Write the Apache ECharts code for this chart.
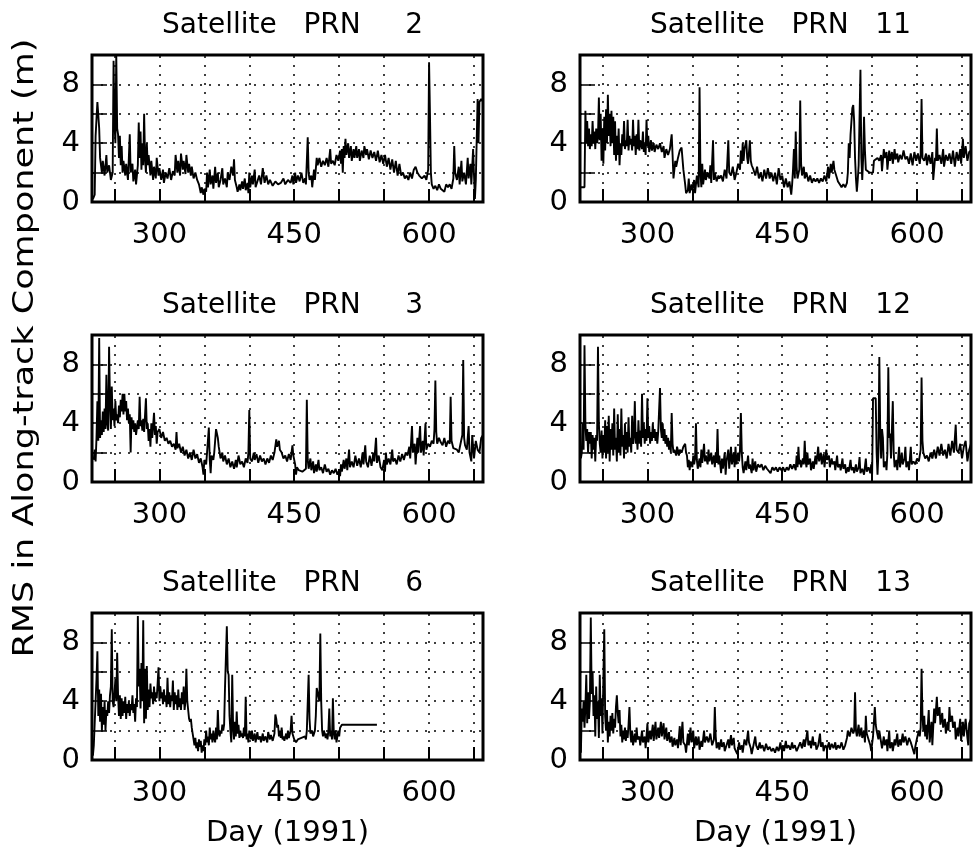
<!DOCTYPE html>
<html>
<head>
<meta charset="utf-8">
<title>RMS in Along-track Component</title>
<script src="https://cdn.jsdelivr.net/npm/echarts@6/dist/echarts.min.js"></script>
<style>
  html, body { margin: 0; padding: 0; background: #fff; }
  #main { width: 977px; height: 855px; }
</style>
</head>
<body>
<div id="main"></div>
<script>
// panel titles, left column then right column, row by row
var titles = ['Satellite   PRN     2', 'Satellite   PRN   11',
              'Satellite   PRN     3', 'Satellite   PRN   12',
              'Satellite   PRN     6', 'Satellite   PRN   13'];

// day of 1991, rms (m)
var prn2 = [[226,0.2],[228,0.5],[229,4.5],[231,6.8],[233,5.0],[234,3.0],[236,2.0],[237,2.8],[239,1.8],[241,3.2],[242,2.0],[244,2.5],[246,1.5],[248,2.0],[249,9.6],[250,5.5],[251,4.0],[252,10],[253,5.0],[254,4.6],[255,3.0],[256,4.5],[257,2.5],[258,3.8],[259,2.0],[260,2.8],[262,1.8],[263,2.6],[265,1.5],[266,3.0],[267,4.6],[268,2.0],[270,2.6],[271,1.4],[273,2.2],[274,1.2],[276,2.5],[277,5.4],[278,3.0],[279,4.8],[280,2.2],[281,4.0],[282,2.5],[283,6.0],[284,3.0],[285,2.0],[286,4.0],[287,2.5],[288,3.2],[290,1.8],[291,2.8],[293,1.5],[294,2.4],[296,1.6],[297,3.0],[299,1.8],[300,2.3],[302,1.5],[304,2.2],[305,1.3],[307,2.0],[309,1.6],[311,2.3],[313,1.5],[315,2.1],[317,1.8],[318,3.2],[320,2.0],[321,2.8],[323,1.8],[324,3.3],[326,2.2],[327,2.8],[329,1.9],[330,3.2],[332,2.0],[333,2.6],[335,1.8],[336,2.4],[338,1.6],[340,2.0],[342,1.5],[344,1.2],[346,0.6],[347,1.0],[349,0.5],[350,0.9],[352,0.7],[353,2.0],[354,1.0],[356,2.2],[357,1.2],[359,1.8],[360,0.9],[362,2.4],[363,1.3],[365,2.0],[366,1.0],[368,1.5],[370,2.3],[371,1.2],[373,1.6],[375,1.0],[376,2.0],[378,1.5],[380,2.4],[382,1.8],[383,2.9],[384,1.5],[386,1.0],[387,0.7],[389,1.2],[390,0.8],[392,1.4],[393,0.9],[395,1.6],[396,0.8],[398,1.3],[399,0.6],[400,2.0],[401,1.0],[403,1.8],[404,1.2],[406,2.2],[407,1.0],[409,1.4],[411,1.8],[413,1.2],[415,2.3],[417,1.3],[419,1.8],[421,1.2],[423,1.5],[426,1.1],[429,1.4],[432,1.2],[435,1.3],[438,1.6],[440,1.2],[443,1.5],[446,1.3],[448,1.8],[449,1.2],[451,2.0],[452,1.3],[454,1.8],[456,1.4],[458,2.0],[460,1.3],[462,1.6],[463,1.2],[465,4.4],[466,2.0],[467,1.5],[469,1.8],[470,1.0],[472,2.2],[473,1.5],[475,3.0],[476,2.5],[478,3.0],[480,2.4],[482,2.8],[484,2.5],[486,3.0],[488,2.4],[490,3.6],[491,2.6],[493,2.8],[495,2.5],[497,3.2],[499,2.8],[501,3.5],[502,2.6],[503,3.6],[504,2.0],[505,3.8],[506,3.0],[507,4.3],[508,3.2],[510,4.0],[511,3.0],[513,3.8],[514,2.8],[516,3.6],[517,3.0],[519,3.8],[520,3.0],[522,3.6],[523,2.8],[525,3.5],[527,3.0],[528,3.8],[530,3.2],[531,3.6],[533,2.9],[535,3.5],[537,3.0],[539,3.4],[541,2.8],[543,3.5],[545,2.7],[547,3.2],[549,2.6],[551,3.2],[553,2.4],[555,3.0],[557,2.2],[559,2.9],[561,2.0],[563,2.8],[565,1.8],[567,2.6],[569,1.8],[571,2.0],[573,1.6],[575,1.8],[577,1.5],[579,2.0],[581,1.6],[583,2.2],[585,2.4],[587,2.0],[589,1.8],[592,1.6],[595,1.8],[597,1.5],[599,2.2],[600,9.5],[601,6.0],[602,2.0],[603,1.2],[605,0.9],[607,1.1],[609,0.8],[611,1.2],[613,0.9],[615,1.0],[617,0.7],[619,1.2],[621,1.0],[623,1.2],[625,0.9],[627,1.6],[628,3.8],[629,2.0],[631,1.5],[633,2.4],[634,1.2],[636,2.8],[637,1.4],[639,2.0],[641,1.2],[643,3.0],[644,1.6],[646,2.6],[647,1.2],[649,3.6],[650,1.8],[651,0.2],[652,1.5],[654,7.0],[655,4.0],[656,6.8],[658,7.0],[660,6.8]];

var prn11 = [[226,1.0],[228,1.0],[230,1.0],[231,6.2],[232,4.0],[233,5.5],[234,3.8],[235,5.0],[236,3.6],[237,4.6],[238,3.8],[239,5.5],[240,4.0],[241,4.8],[242,3.6],[243,5.0],[244,4.0],[245,4.4],[246,7.1],[247,4.2],[248,6.0],[249,2.8],[250,5.0],[251,2.6],[252,5.8],[253,3.5],[254,6.3],[255,4.0],[256,7.3],[257,4.5],[258,6.0],[259,3.8],[260,6.2],[261,4.0],[262,5.8],[263,3.2],[264,5.5],[265,2.8],[266,4.5],[267,3.2],[268,5.0],[269,2.5],[270,4.0],[271,3.2],[272,4.6],[273,3.8],[274,5.5],[275,3.6],[276,4.2],[277,3.8],[278,5.6],[279,3.5],[280,4.5],[281,3.9],[282,4.3],[283,3.5],[284,5.6],[285,3.8],[286,4.5],[287,3.2],[288,4.6],[289,3.6],[290,5.6],[291,3.5],[292,4.2],[294,3.6],[295,4.8],[296,3.4],[297,4.0],[298,3.2],[299,5.6],[300,3.8],[301,4.5],[302,3.4],[304,4.2],[305,3.5],[307,4.0],[308,3.4],[310,3.9],[312,3.6],[314,4.0],[316,3.4],[318,3.8],[319,3.0],[321,3.6],[323,3.2],[325,3.6],[327,4.6],[328,3.2],[329,1.6],[331,2.8],[332,2.4],[334,3.0],[336,3.5],[338,3.7],[340,2.2],[342,1.2],[343,0.6],[345,0.8],[346,1.6],[347,0.6],[349,1.2],[350,0.8],[352,1.5],[353,0.6],[355,1.8],[357,1.0],[358,7.8],[359,2.0],[360,1.0],[361,2.6],[362,1.2],[364,2.2],[365,1.5],[367,2.0],[369,1.6],[370,2.5],[371,1.3],[373,4.2],[374,1.5],[375,2.0],[377,1.4],[379,1.8],[380,1.6],[382,1.8],[384,1.4],[386,2.2],[388,1.6],[390,4.2],[391,2.0],[393,1.8],[395,2.4],[397,1.5],[399,2.0],[401,2.6],[403,2.2],[404,3.5],[405,2.6],[406,4.0],[407,2.8],[408,3.6],[410,4.2],[411,3.0],[412,2.6],[414,4.2],[415,2.8],[416,2.5],[418,2.2],[420,1.8],[422,2.4],[424,1.6],[426,2.0],[428,1.4],[430,2.2],[432,1.6],[434,2.3],[436,1.6],[438,2.0],[440,1.4],[442,2.0],[444,1.2],[446,2.3],[448,1.5],[450,1.8],[452,1.0],[454,1.6],[456,1.0],[458,1.4],[460,0.5],[461,1.2],[462,2.2],[463,3.6],[464,1.6],[465,4.8],[466,2.4],[467,1.6],[469,2.2],[470,6.9],[471,2.6],[472,1.8],[474,2.4],[475,1.6],[477,2.0],[479,1.4],[481,1.8],[483,1.3],[485,1.6],[487,1.4],[489,1.6],[491,1.3],[493,1.6],[495,1.4],[497,1.8],[499,1.4],[501,2.4],[502,1.6],[504,2.6],[505,2.0],[507,2.8],[508,2.2],[510,1.8],[512,1.4],[514,1.2],[516,1.0],[518,1.2],[520,1.0],[522,1.3],[523,2.0],[524,4.0],[525,3.0],[526,4.6],[528,6.4],[529,6.6],[530,5.5],[531,3.0],[532,1.6],[533,0.7],[534,1.5],[535,2.5],[537,9.0],[538,3.0],[539,1.5],[540,3.0],[541,5.8],[542,3.5],[543,2.2],[545,2.1],[547,2.0],[549,2.1],[551,2.0],[552,2.8],[554,2.7],[556,3.0],[558,2.8],[560,3.2],[561,2.1],[563,3.6],[564,3.0],[566,3.4],[567,2.2],[569,3.5],[570,2.8],[572,3.4],[573,2.6],[575,3.6],[576,2.9],[578,3.3],[579,2.7],[581,3.2],[583,2.9],[585,3.5],[587,2.9],[589,3.1],[591,2.6],[593,3.3],[595,2.5],[597,3.4],[599,2.8],[601,3.3],[603,2.6],[604,3.2],[605,7.0],[606,3.0],[608,2.8],[610,3.3],[611,2.5],[613,3.2],[615,2.6],[617,3.4],[618,1.5],[620,3.0],[621,2.8],[622,5.0],[623,2.8],[625,3.2],[627,2.6],[629,3.6],[630,2.4],[632,3.2],[634,2.8],[636,3.3],[638,2.6],[640,3.5],[642,2.4],[644,3.4],[646,2.8],[648,3.6],[649,2.6],[651,4.3],[652,3.0],[654,3.8],[656,2.8],[658,3.4],[660,3.5]];

var prn3 = [[227,1.5],[228,2.2],[229,1.4],[230,3.0],[231,5.5],[232,2.8],[233,9.8],[234,3.0],[235,4.2],[236,3.2],[237,4.8],[238,3.4],[239,5.0],[240,3.6],[241,7.3],[242,4.0],[243,3.5],[244,9.2],[245,5.5],[246,3.6],[247,6.5],[248,4.2],[249,5.0],[250,3.8],[251,5.5],[252,4.2],[253,4.6],[254,4.0],[255,5.2],[256,4.4],[257,5.6],[258,4.8],[259,6.0],[260,4.6],[261,6.0],[262,4.8],[263,5.5],[264,4.2],[265,5.0],[266,4.0],[267,4.6],[268,2.0],[269,4.4],[270,3.6],[271,4.2],[272,3.4],[273,4.0],[274,3.2],[276,4.2],[277,3.6],[278,5.8],[279,3.8],[280,4.2],[281,3.5],[282,4.3],[283,3.4],[285,5.7],[286,3.6],[287,4.0],[288,2.8],[289,3.6],[290,2.4],[291,4.0],[292,3.0],[294,4.7],[295,3.2],[296,3.8],[297,2.6],[298,3.4],[300,3.6],[302,3.0],[304,3.4],[306,2.8],[308,3.0],[310,2.6],[312,2.8],[314,2.4],[316,2.6],[318,2.2],[319,3.4],[320,2.3],[322,2.6],[324,2.0],[326,2.4],[328,1.8],[330,2.2],[332,1.6],[334,2.0],[336,1.5],[338,2.2],[340,1.6],[342,1.9],[344,1.3],[346,1.6],[348,1.0],[349,0.5],[350,1.5],[352,1.2],[353,2.0],[355,3.7],[356,1.5],[357,0.6],[358,1.8],[360,1.5],[361,2.0],[363,3.6],[365,3.0],[366,2.4],[368,1.6],[370,2.0],[371,1.4],[373,1.8],[375,1.2],[377,1.6],[379,1.0],[381,1.4],[383,0.9],[385,1.5],[386,1.0],[388,1.8],[390,1.2],[392,1.4],[394,1.0],[396,1.6],[398,1.3],[399,2.0],[400,4.9],[401,1.6],[403,1.4],[405,2.0],[406,1.5],[408,1.9],[410,1.3],[412,1.8],[414,1.4],[416,1.6],[418,1.2],[420,1.6],[422,1.3],[424,1.8],[426,1.5],[428,2.0],[430,2.9],[431,2.4],[433,2.8],[434,2.2],[436,2.0],[438,1.6],[440,1.8],[442,1.4],[444,1.9],[446,1.5],[448,2.5],[449,1.8],[451,1.2],[452,0.5],[453,1.0],[455,0.8],[457,0.9],[459,0.7],[461,0.8],[463,0.9],[464,5.6],[465,1.5],[466,0.9],[468,1.6],[469,0.8],[471,1.4],[472,0.6],[474,1.2],[475,0.7],[477,1.5],[478,0.8],[480,1.0],[482,0.6],[484,1.2],[486,0.7],[488,0.9],[490,0.5],[492,0.8],[494,0.6],[496,0.9],[498,0.5],[500,0.8],[501,0.4],[502,1.2],[503,0.7],[505,1.5],[506,0.9],[508,1.6],[509,0.8],[511,2.2],[512,1.0],[514,1.4],[516,1.0],[518,1.8],[520,1.1],[522,1.6],[524,1.0],[526,2.0],[527,1.2],[529,2.5],[530,1.4],[532,1.0],[534,1.8],[536,1.1],[538,2.0],[539,1.4],[541,3.0],[542,1.3],[544,1.8],[546,1.0],[548,0.8],[550,1.5],[551,0.7],[552,2.0],[553,1.2],[555,1.6],[557,1.2],[559,2.2],[560,1.4],[562,1.6],[564,1.2],[566,1.8],[568,1.4],[570,1.9],[572,1.5],[574,2.0],[576,1.8],[578,2.4],[579,1.6],[581,3.8],[582,2.0],[584,2.6],[585,1.2],[587,3.0],[588,2.0],[590,3.8],[591,2.0],[593,2.8],[594,1.8],[596,4.0],[597,2.2],[599,2.6],[601,2.4],[603,2.8],[605,2.6],[606,3.6],[607,6.9],[608,3.4],[609,2.6],[611,3.0],[613,2.7],[615,2.5],[617,3.0],[619,2.4],[621,2.8],[623,2.6],[624,5.8],[625,2.8],[627,2.3],[629,2.4],[631,2.2],[633,2.0],[635,2.6],[637,3.2],[638,8.3],[639,3.0],[640,2.5],[642,2.2],[644,3.8],[645,2.0],[647,1.4],[648,3.2],[650,1.6],[652,2.8],[654,2.2],[656,2.0],[658,3.0],[660,3.2]];

var prn12 = [[226,1.6],[227,2.0],[228,4.0],[229,2.2],[230,9.3],[231,4.0],[232,2.8],[233,3.6],[234,2.0],[235,3.4],[236,2.6],[237,3.4],[238,1.6],[239,3.2],[240,2.2],[241,3.0],[242,1.4],[243,3.2],[244,2.8],[245,9.2],[246,4.0],[247,2.6],[248,2.0],[249,3.5],[250,1.6],[251,3.2],[252,2.0],[253,4.2],[254,1.6],[255,3.8],[256,2.0],[257,4.5],[258,1.4],[259,3.6],[260,2.2],[261,4.0],[262,1.8],[263,5.0],[264,2.2],[265,3.0],[266,1.4],[267,4.6],[268,2.0],[269,3.6],[270,1.8],[271,5.0],[272,2.4],[273,3.2],[274,1.6],[275,4.0],[276,2.2],[277,3.4],[278,2.0],[279,4.4],[280,2.4],[281,3.0],[282,2.0],[283,4.5],[284,2.6],[285,3.2],[286,5.5],[287,2.6],[288,3.4],[289,2.2],[290,4.2],[291,2.6],[292,3.5],[293,2.4],[294,6.0],[295,3.0],[296,4.0],[297,2.6],[298,3.6],[299,2.8],[300,5.7],[301,3.0],[302,3.8],[303,2.6],[304,3.4],[305,2.8],[306,4.0],[307,3.0],[308,3.6],[309,2.8],[310,3.4],[311,2.6],[312,3.4],[314,6.4],[315,3.6],[316,3.0],[317,4.0],[318,2.8],[319,3.6],[320,2.6],[321,3.2],[322,2.4],[323,3.0],[324,2.2],[325,2.8],[326,2.0],[327,4.7],[328,2.6],[329,2.0],[330,2.2],[332,1.8],[333,2.4],[335,1.8],[336,2.2],[338,2.0],[340,2.4],[342,2.6],[343,2.0],[344,1.8],[345,1.0],[346,1.5],[347,0.8],[348,1.4],[350,1.0],[351,1.8],[352,1.2],[353,1.6],[354,4.0],[355,1.5],[356,0.9],[358,1.6],[359,1.0],[360,2.2],[361,1.3],[363,2.6],[364,1.4],[365,1.8],[367,1.2],[368,2.2],[369,1.4],[371,2.0],[372,1.2],[374,1.8],[375,1.0],[376,2.0],[377,1.3],[378,3.6],[379,1.2],[380,1.8],[382,0.6],[383,1.6],[384,0.9],[386,2.0],[387,0.5],[388,1.4],[390,2.2],[391,0.9],[393,2.4],[394,1.2],[396,2.0],[397,1.0],[398,2.4],[399,1.2],[401,2.0],[402,1.4],[403,2.2],[404,4.7],[405,2.0],[406,1.0],[407,0.6],[409,1.4],[410,0.8],[412,1.8],[413,0.9],[414,1.2],[416,0.6],[417,1.6],[418,0.8],[420,1.4],[421,0.7],[423,1.2],[425,1.0],[427,1.2],[429,0.8],[431,1.1],[433,0.9],[435,1.0],[437,0.6],[439,1.0],[441,0.8],[443,1.0],[445,0.7],[447,1.0],[449,0.8],[451,1.0],[453,0.7],[455,1.0],[457,0.8],[459,1.2],[461,0.9],[463,1.2],[465,0.8],[466,1.8],[467,1.0],[468,2.4],[469,1.2],[470,1.5],[471,1.0],[473,1.6],[474,1.2],[475,2.8],[476,1.4],[477,1.0],[478,2.0],[479,1.2],[481,1.6],[482,0.8],[484,1.4],[485,0.9],[487,1.8],[488,1.2],[490,2.4],[491,1.4],[493,2.0],[494,1.2],[496,1.9],[497,1.0],[499,2.2],[500,1.5],[502,1.8],[503,1.0],[505,1.6],[506,1.2],[508,1.4],[509,0.8],[511,1.8],[512,1.0],[514,1.2],[515,0.8],[517,1.6],[518,0.9],[520,1.2],[521,0.6],[523,1.0],[524,0.7],[526,1.5],[527,0.8],[529,1.0],[530,0.6],[532,1.2],[533,0.7],[535,1.0],[536,1.7],[537,0.6],[539,0.9],[541,0.5],[543,1.6],[544,0.7],[546,1.0],[548,0.6],[549,1.2],[550,0.5],[551,5.7],[554,5.7],[555,2.0],[556,0.5],[557,2.0],[558,8.5],[559,3.5],[560,1.6],[561,3.6],[562,3.0],[563,1.0],[565,1.4],[566,0.8],[567,2.0],[568,7.8],[569,3.0],[570,3.3],[571,1.6],[573,5.5],[574,2.0],[575,1.0],[577,1.5],[578,0.8],[580,2.4],[581,1.0],[583,2.0],[584,1.2],[586,1.6],[587,2.4],[588,1.0],[590,1.4],[591,0.8],[593,2.4],[594,1.2],[596,1.4],[598,1.2],[600,1.6],[602,1.4],[604,2.2],[605,7.1],[606,2.8],[607,2.0],[609,1.6],[611,1.8],[613,1.4],[615,2.0],[617,1.6],[619,2.2],[621,1.6],[623,2.4],[625,1.8],[627,2.6],[629,1.8],[631,2.2],[633,1.6],[635,2.6],[637,1.8],[639,2.8],[641,2.0],[643,3.9],[644,2.2],[646,2.0],[648,2.6],[650,1.6],[652,2.4],[654,2.8],[656,1.4],[658,2.2],[660,2.6]];

var prn6 = [[226,0.3],[227,1.0],[228,2.5],[229,4.0],[230,5.5],[231,7.4],[232,3.0],[233,4.8],[234,2.6],[235,4.5],[236,2.0],[237,3.6],[238,2.4],[239,4.0],[240,2.0],[241,3.4],[242,3.0],[243,4.0],[244,3.2],[245,4.4],[246,5.0],[247,8.9],[248,4.0],[249,3.6],[250,4.5],[251,5.5],[252,4.0],[253,7.3],[254,4.4],[255,3.0],[256,4.4],[257,2.8],[258,4.2],[259,3.0],[260,4.0],[261,3.2],[262,4.3],[263,2.8],[264,3.8],[265,3.2],[266,4.0],[267,3.0],[268,3.8],[269,3.4],[270,4.4],[271,3.2],[272,3.8],[273,2.6],[274,4.2],[275,3.6],[276,9.8],[277,5.0],[278,6.2],[279,3.5],[280,6.6],[281,4.0],[282,9.5],[283,2.5],[284,6.2],[285,2.8],[286,6.4],[287,3.4],[288,4.8],[289,3.6],[290,5.2],[291,4.2],[292,4.6],[293,3.8],[294,5.0],[295,4.0],[296,4.6],[297,4.2],[298,5.2],[299,6.3],[300,4.0],[301,5.0],[302,4.2],[303,4.6],[304,3.8],[305,4.8],[306,4.0],[307,4.4],[308,3.6],[309,5.6],[310,3.8],[311,4.6],[312,3.6],[313,4.4],[314,4.0],[315,5.4],[316,3.4],[317,4.6],[318,3.8],[319,4.4],[320,3.4],[321,4.8],[322,3.6],[323,4.2],[324,3.4],[325,4.6],[326,3.8],[327,5.0],[328,3.4],[329,4.0],[330,6.2],[331,4.0],[332,3.4],[333,2.8],[334,2.6],[335,2.8],[336,2.2],[337,1.8],[338,1.4],[339,1.0],[340,1.5],[341,0.8],[342,1.2],[343,0.6],[344,1.4],[345,0.9],[346,1.3],[347,0.5],[348,1.0],[349,0.6],[350,1.4],[351,1.0],[352,2.0],[353,1.2],[354,1.6],[355,1.0],[356,2.2],[357,1.4],[358,1.8],[359,1.2],[360,2.0],[361,1.5],[362,1.2],[363,2.2],[364,1.4],[365,3.4],[366,1.8],[367,1.6],[368,2.0],[369,1.8],[370,2.4],[371,2.0],[372,2.4],[373,5.0],[375,9.1],[376,6.0],[377,5.8],[378,3.0],[379,2.0],[380,1.2],[381,5.8],[382,2.2],[383,1.4],[384,2.6],[385,1.6],[386,3.3],[387,1.8],[388,2.4],[389,1.5],[390,2.0],[391,1.6],[392,1.8],[393,1.5],[394,2.2],[395,1.6],[396,4.3],[397,1.4],[398,1.8],[399,1.2],[400,2.0],[402,1.4],[403,2.0],[404,1.3],[406,1.8],[407,1.2],[409,1.9],[410,1.4],[412,1.6],[413,1.2],[415,1.8],[416,1.3],[418,1.6],[420,1.2],[421,1.9],[423,1.4],[424,1.7],[426,1.3],[428,1.8],[429,3.1],[430,2.8],[431,2.2],[432,2.4],[433,1.6],[434,2.0],[435,1.5],[436,2.2],[437,1.4],[438,1.6],[439,1.3],[441,1.8],[442,1.4],[443,2.0],[444,1.5],[446,2.0],[447,3.0],[448,1.8],[450,1.4],[452,1.2],[454,1.4],[456,1.3],[458,1.5],[460,1.4],[462,1.6],[463,1.4],[464,2.0],[466,5.8],[467,2.8],[468,1.8],[470,2.0],[471,1.6],[473,2.0],[474,3.0],[475,4.9],[477,4.9],[478,4.0],[479,8.6],[480,4.0],[481,2.0],[482,1.6],[483,2.0],[485,1.5],[486,1.8],[487,1.4],[488,2.0],[489,3.5],[490,1.6],[491,2.0],[492,1.4],[493,4.2],[494,1.8],[495,1.4],[496,2.0],[497,1.2],[499,2.0],[500,1.6],[501,2.2],[503,2.4],[542,2.4]];

var prn13 = [[226,0.5],[227,3.5],[228,2.6],[229,4.0],[230,2.2],[231,3.6],[232,5.8],[233,2.5],[234,4.6],[235,2.8],[236,4.0],[237,9.7],[238,4.5],[239,6.0],[240,3.0],[241,4.4],[242,1.6],[243,5.0],[244,2.8],[245,4.0],[246,1.5],[247,5.8],[248,3.0],[249,4.2],[250,1.8],[251,5.6],[252,8.9],[253,3.0],[254,2.0],[255,3.4],[256,1.2],[257,2.6],[258,1.6],[259,3.0],[260,2.0],[261,3.2],[262,1.8],[263,2.8],[264,2.2],[265,3.6],[266,4.4],[267,3.2],[268,2.5],[269,3.4],[270,1.6],[271,2.4],[272,1.2],[273,2.0],[274,1.4],[275,2.2],[276,1.3],[277,2.0],[278,1.5],[279,2.4],[280,3.6],[281,1.8],[282,1.2],[283,2.0],[284,1.0],[286,1.8],[287,1.2],[288,2.2],[289,1.4],[291,1.6],[292,1.0],[294,2.0],[295,1.2],[297,1.6],[298,0.8],[300,2.5],[301,1.2],[303,2.0],[304,1.4],[306,2.4],[307,1.3],[309,2.6],[310,1.4],[312,2.2],[313,1.5],[315,2.6],[316,1.6],[318,2.5],[319,1.4],[321,2.2],[322,1.3],[324,1.9],[325,1.2],[327,1.6],[328,0.9],[330,1.5],[331,1.0],[333,1.4],[334,0.8],[336,2.3],[337,1.0],[339,2.6],[340,1.2],[342,1.0],[343,0.5],[345,1.8],[346,1.0],[348,2.2],[349,1.2],[351,2.0],[352,0.8],[354,1.6],[355,1.0],[357,1.6],[358,0.7],[360,1.3],[361,0.9],[363,2.0],[364,1.2],[366,1.6],[368,1.2],[370,1.8],[372,1.0],[374,1.4],[375,3.6],[376,1.6],[377,0.8],[379,1.2],[380,0.7],[382,1.4],[383,0.9],[385,1.2],[386,0.6],[388,1.0],[390,1.4],[391,0.8],[393,1.7],[394,1.0],[396,1.5],[397,0.8],[399,0.9],[400,0.4],[402,1.2],[403,0.7],[405,1.0],[406,0.5],[408,1.4],[410,1.0],[412,2.0],[413,1.2],[415,0.8],[416,0.4],[418,1.0],[420,1.6],[421,1.0],[423,0.7],[425,1.2],[426,0.8],[428,1.0],[430,0.6],[432,1.1],[434,0.7],[436,0.9],[438,0.6],[440,0.8],[442,0.5],[444,0.9],[446,0.6],[448,1.2],[449,0.7],[451,1.0],[452,0.6],[454,1.3],[455,0.8],[457,1.0],[459,0.7],[461,1.2],[462,0.8],[464,1.0],[466,0.6],[468,0.9],[470,1.2],[472,0.8],[474,1.4],[475,0.9],[477,1.6],[478,2.0],[479,1.0],[481,1.3],[482,0.8],[484,1.6],[485,1.0],[487,1.2],[488,0.7],[490,1.0],[492,1.8],[493,0.9],[495,1.2],[496,0.6],[498,1.0],[500,0.8],[502,1.2],[503,0.7],[505,1.1],[507,0.8],[509,1.2],[510,0.7],[512,1.0],[514,0.8],[516,1.2],[518,0.7],[520,1.0],[522,1.5],[523,2.0],[525,1.6],[527,2.2],[529,1.8],[530,2.0],[531,4.6],[532,2.0],[533,1.6],[535,2.4],[536,1.6],[538,2.2],[539,1.5],[541,2.0],[542,1.2],[543,3.0],[544,1.8],[546,1.4],[548,1.0],[549,0.6],[550,0.5],[551,1.6],[553,3.6],[554,2.4],[555,2.0],[557,1.4],[558,2.0],[560,1.2],[561,0.8],[563,1.6],[564,1.0],[566,1.4],[567,0.6],[569,2.0],[570,0.8],[572,1.2],[573,0.6],[575,1.4],[576,1.0],[578,1.8],[579,0.9],[581,1.4],[582,1.0],[584,1.8],[585,1.2],[587,1.6],[589,1.0],[591,1.5],[593,1.2],[595,0.8],[597,0.4],[598,0.9],[600,1.5],[602,2.0],[603,1.6],[604,2.2],[605,6.2],[606,3.0],[607,2.0],[608,3.0],[609,1.6],[610,2.4],[611,1.4],[613,3.4],[614,1.2],[616,2.6],[617,1.0],[619,3.5],[620,2.5],[622,4.3],[623,3.0],[625,3.6],[626,2.4],[628,3.2],[629,2.2],[631,2.8],[632,1.8],[634,2.6],[635,2.0],[636,3.6],[637,2.6],[639,3.0],[640,2.2],[642,2.6],[643,1.4],[645,2.2],[646,1.6],[648,2.8],[649,1.3],[651,2.6],[652,1.6],[654,2.8],[656,1.5],[657,1.0],[658,2.5],[660,2.8]];

var series6 = [prn2, prn11, prn3, prn12, prn6, prn13];

// axis ticks
var dayTicks = [250, 300, 350, 400, 450, 500, 550, 600, 650];
var dayLabels = [300, 450, 600];
var rmsLabels = [0, 4, 8];

var FONT = 'DejaVu Sans';
var colLeft = [92, 580];
var rowTop = [55, 335, 613];
var gridW = 391, gridH = 147;

var grids = [], xAxes = [], yAxes = [], titleList = [], seriesList = [];
for (var i = 0; i < 6; i++) {
  var col = i % 2, row = Math.floor(i / 2);
  grids.push({
    left: colLeft[col], top: rowTop[row], width: gridW, height: gridH,
    show: true, borderColor: '#000', borderWidth: 3, backgroundColor: 'transparent'
  });
  titleList.push({
    text: titles[i],
    left: colLeft[col] + gridW / 2, top: rowTop[row] - 48,
    textAlign: 'center',
    textStyle: { fontFamily: FONT, fontWeight: 'normal', fontSize: 28, color: '#000' }
  });
  xAxes.push({
    type: 'value', gridIndex: i, min: 225, max: 660,
    axisLine: { show: false },
    axisTick: { show: true, inside: true, length: 13, customValues: dayTicks,
                lineStyle: { color: '#000', width: 2 } },
    axisLabel: { customValues: dayLabels, margin: 19, fontFamily: FONT, fontSize: 29, color: '#000' },
    splitLine: { show: false },
    name: row === 2 ? 'Day (1991)' : '',
    nameLocation: 'middle', nameGap: 59,
    nameTextStyle: { fontFamily: FONT, fontSize: 29, color: '#000' }
  });
  yAxes.push({
    type: 'value', gridIndex: i, min: 0, max: 10, interval: 2,
    axisLine: { show: false },
    axisTick: { show: true, inside: true, length: 15, lineStyle: { color: '#000', width: 1.5 } },
    axisLabel: { customValues: rmsLabels, margin: 12, fontFamily: FONT, fontSize: 29, color: '#000' },
    splitLine: { show: true, lineStyle: { color: '#000', width: 1.5, type: [2, 7] } }
  });
  seriesList.push({
    type: 'line', xAxisIndex: i, yAxisIndex: i,
    data: series6[i],
    showSymbol: false, symbol: 'none',
    lineStyle: { color: '#000', width: 1.9 },
    markLine: {
      silent: true, symbol: 'none', label: { show: false },
      lineStyle: { color: '#000', width: 1.5, type: [2, 7] },
      data: dayTicks.map(function (d) { return { xAxis: d }; })
    }
  });
}

var myChart = echarts.init(document.getElementById('main'), null, { renderer: 'canvas' });
var option = {
  backgroundColor: '#fff',
  animation: false,
  title: titleList,
  grid: grids,
  xAxis: xAxes,
  yAxis: yAxes,
  series: seriesList,
  graphic: [{
    type: 'text', x: 26, y: 348, rotation: Math.PI / 2, scaleX: 1.25,
    style: {
      text: 'RMS in Along-track Component (m)',
      font: '28px "DejaVu Sans"', fill: '#000',
      align: 'center', verticalAlign: 'middle'
    }
  }]
};
myChart.setOption(option);
</script>
</body>
</html>
